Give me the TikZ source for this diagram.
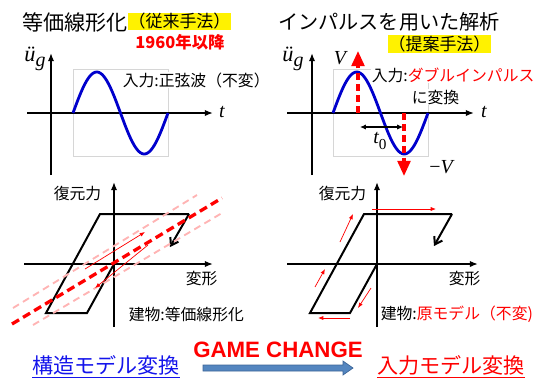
\documentclass[tikz,border=0pt]{standalone}
\usepackage{fontspec}
\setmainfont{Noto Sans CJK JP}
\newfontfamily\arialfont{Liberation Sans}
\newfontfamily\timesit{Liberation Serif}[UprightFont=*-Italic]
\newfontfamily\timesup{Liberation Serif}
\usetikzlibrary{arrows.meta}

\newcommand{\accl}{{\fontsize{19}{20}\selectfont\timesit ü}\raisebox{-0.42em}{\fontsize{17}{18}\selectfont\timesit g}}

\begin{document}
\begin{tikzpicture}[
  x=0.03cm, y=-0.03cm,
  axis/.style={draw=black, line width=1.6pt, -{Latex[length=7pt,width=5.5pt]}},
  frame/.style={draw=black!16, line width=0.4pt},
  wave/.style={draw=waveblue, line width=2.4pt},
  loopline/.style={draw=black, line width=1.7pt, line join=miter},
  turn/.style={draw=black, line width=1.7pt, -{Straight Barb[length=6pt,width=8pt,line width=1.7pt]}},
  flow/.style={draw=red, line width=0.6pt, -{Latex[length=4.5pt,width=3.5pt]}},
  pulse/.style={draw=red, line width=2.6pt, dash pattern=on 6pt off 3.5pt, -{Triangle[length=13pt,width=11pt]}},
  span/.style={draw=black, line width=1.1pt, {Latex[length=5pt,width=4.5pt]}-{Latex[length=5pt,width=4.5pt]}},
  eqline/.style={draw=red, line width=2.8pt, dash pattern=on 7pt off 4pt},
  eqband/.style={draw=pinkline, line width=1.6pt, dash pattern=on 6pt off 4pt},
  lab/.style={font=\fontsize{13.5}{16}\selectfont, inner sep=0.5pt},
  mlab/.style={font=\fontsize{17}{18}\selectfont\timesit, inner sep=0pt},
  title/.style={font=\fontsize{18}{20}\selectfont, inner sep=0pt, anchor=west},
  tag/.style={font=\fontsize{14.5}{16}\selectfont, fill=yellow, inner sep=0.6pt}
]
\definecolor{waveblue}{RGB}{0,0,204}
\definecolor{pinkline}{RGB}{255,180,180}
\definecolor{gcblue}{RGB}{84,134,192}
\definecolor{gcedge}{RGB}{60,100,150}
\definecolor{modelblue}{RGB}{20,20,235}

\useasboundingbox (0,0) rectangle (542,378);

% --- upper left: sine input
\node[title] (tl) at (22,22) {等価線形化};
\node[tag] (tagl) at (179.5,21.5) {（従来手法）};
\node[font=\fontsize{14}{16}\selectfont\bfseries, text=red, inner sep=0pt] (year) at (180,42) {1960年以降};
\draw[frame] (73,69) rectangle (168,156);
\draw[axis] (51,175) -- (51,53);
\draw[axis] (27,113) -- (213,113);
\draw[wave] plot[domain=0:95, samples=70, smooth] ({73+\x},{113-41*sin(\x/95*360)});
\node[inner sep=0pt] (ugl) at (35,59) {\accl};
\node[mlab] (tlx) at (222,112) {t};
\node[lab, fill=white, anchor=west] (inl) at (122,80) {入力:正弦波（不変）};

% --- upper right: double impulse
\node[title, font=\fontsize{17.2}{20}\selectfont] (tr) at (278,22) {インパルスを用いた解析};
\node[tag] (tagr) at (439.5,44) {（提案手法）};
\draw[frame] (333,69) rectangle (428,156);
\draw[axis] (312,175) -- (312,53);
\draw[axis] (287,113) -- (474,113);
\draw[wave] plot[domain=0:95, samples=70, smooth] ({333+\x},{113-41*sin(\x/95*360)});
\coordinate (pu0) at (358,113);
\coordinate (pu1) at (358,51);
\coordinate (pd0) at (404,113);
\coordinate (pd1) at (404,176);
\draw[pulse] (pu0) -- (pu1);
\draw[pulse] (pd0) -- (pd1);
\coordinate (ta) at (360,127);
\coordinate (tb) at (403,127);
\draw[span] (ta) -- (tb);
\node[inner sep=0pt] (ugr) at (293,59) {\accl};
\node[mlab] (trx) at (484,112) {t};
\node[mlab] (vp) at (340,58) {V};
\node[mlab] (vm) at (441,167) {{\timesup −}V};
\node[mlab] (tz) at (380,141) {t\raisebox{-0.3em}{\fontsize{13}{14}\selectfont\timesup 0}};
\node[lab, fill=white, anchor=west] (inr) at (371,75) {入力:\textcolor{red}{ダブルインパルス}};
\node[lab, fill=white, anchor=west] (inr2) at (411,97) {に変換};

% --- lower left: equivalent linear model
\draw[axis] (114,327) -- (114,182);
\draw[axis] (24,264) -- (213,264);
\coordinate (lo) at (114,264);
\coordinate (l1) at (87,313);
\coordinate (l2) at (46,313);
\coordinate (l3) at (100,214);
\coordinate (l4) at (189,214);
\coordinate (l5) at (170,247);
\draw[loopline] (lo) -- (l1) -- (l2) -- (l3) -- (l4);
\draw[turn] (l4) -- (l5);
\draw[eqband] (13,308) -- (197,195);
\draw[eqband] (33,325) -- (222,213);
\draw[eqline] (12,324) -- (222,198);
\draw[flow] (85,269) -- (145,232);
\draw[flow] (148,245) -- (95,288);
\node[lab, anchor=west] (rfl) at (53,193) {復元力};
\node[lab, anchor=west] (dfl) at (185,279) {変形};
\node[lab, anchor=west] (bdl) at (128,314) {建物:等価線形化};

% --- lower right: original model
\draw[axis] (377,327) -- (377,182);
\draw[axis] (287,264) -- (478,264);
\coordinate (ro) at (377,264);
\coordinate (r1) at (350,313);
\coordinate (r2) at (310,313);
\coordinate (r3) at (364,214);
\coordinate (r4) at (452,214);
\coordinate (r5) at (434,246);
\draw[loopline] (ro) -- (r1) -- (r2) -- (r3) -- (r4);
\draw[turn] (r4) -- (r5);
\draw[flow] (372,209) -- (436,209);
\draw[flow] (340,242) -- (353,214);
\draw[flow] (315,287) -- (325,269);
\draw[flow] (371,288) -- (358,308);
\draw[flow] (350,318) -- (318,318);
\node[lab, anchor=west] (rfr) at (318,193) {復元力};
\node[lab, anchor=west] (dfr) at (448,279) {変形};
\node[lab, anchor=west] (bdr) at (380,314) {建物:\textcolor{red}{原モデル（不変)}};

% --- bottom: game change
\node[font=\fontsize{18}{20}\selectfont, text=modelblue, anchor=west, inner sep=0pt] (fromm) at (32,367) {\underline{構造モデル変換}};
\node[font=\fontsize{18}{20}\selectfont, text=red, anchor=west, inner sep=0pt] (tom) at (377,367) {\underline{入力モデル変換}};
\node[font=\arialfont\fontsize{19}{20}\selectfont\bfseries, text=red, inner sep=0pt] (gc) at (278,350) {GAME CHANGE};
\draw[fill=gcblue, draw=gcedge, line width=0.6pt] (203,365) -- (343,365) -- (343,361) -- (353,368) -- (343,375) -- (343,371) -- (203,371) -- cycle;
\end{tikzpicture}
\end{document}
